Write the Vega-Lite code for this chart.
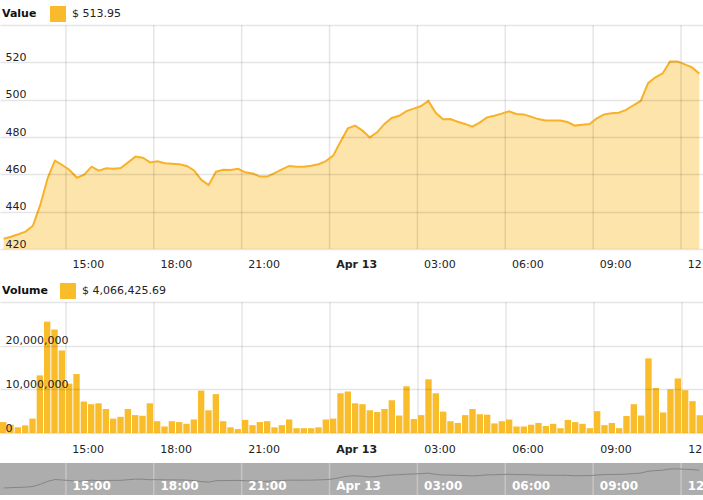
{
  "$schema": "https://vega.github.io/schema/vega-lite/v6.json",
  "width": 703,
  "height": 500,
  "autosize": {"type": "none"},
  "padding": 0,
  "background": "white",
  "config": {
    "view": {"stroke": null},
    "font": "DejaVu Sans",
    "axis": {"title": null, "ticks": false, "tickSize": 0, "domain": false, "grid": false, "labelFontSize": 11, "labelColor": "#222", "gridColor": "#000000", "gridOpacity": 0.1, "gridWidth": 1.5, "labelAngle": 0},
    "legend": {"titleFontSize": 11, "titleFontWeight": "bold", "titleColor": "#111", "labelFontSize": 11, "labelColor": "#222", "labelOffset": 5, "symbolType": "square", "symbolSize": 256, "padding": 0, "titleOrient": "left", "direction": "horizontal", "orient": "none"}
  },
  "datasets": {
    "btc": [
      {"t": "2014-04-12T12:45:00", "price": 425.5, "vol": 2500000},
      {"t": "2014-04-12T13:00:00", "price": 426.6, "vol": 1900000},
      {"t": "2014-04-12T13:15:00", "price": 427.9, "vol": 1300000},
      {"t": "2014-04-12T13:30:00", "price": 429.3, "vol": 1750000},
      {"t": "2014-04-12T13:45:00", "price": 432.5, "vol": 3300000},
      {"t": "2014-04-12T14:00:00", "price": 443.6, "vol": 13200000},
      {"t": "2014-04-12T14:15:00", "price": 457.9, "vol": 25500000},
      {"t": "2014-04-12T14:30:00", "price": 467.3, "vol": 23700000},
      {"t": "2014-04-12T14:45:00", "price": 465.0, "vol": 18900000},
      {"t": "2014-04-12T15:00:00", "price": 462.3, "vol": 11300000},
      {"t": "2014-04-12T15:15:00", "price": 458.2, "vol": 13500000},
      {"t": "2014-04-12T15:30:00", "price": 459.8, "vol": 7200000},
      {"t": "2014-04-12T15:45:00", "price": 464.1, "vol": 6600000},
      {"t": "2014-04-12T16:00:00", "price": 462.0, "vol": 6800000},
      {"t": "2014-04-12T16:15:00", "price": 463.2, "vol": 5500000},
      {"t": "2014-04-12T16:30:00", "price": 463.0, "vol": 3300000},
      {"t": "2014-04-12T16:45:00", "price": 463.4, "vol": 3700000},
      {"t": "2014-04-12T17:00:00", "price": 466.4, "vol": 5500000},
      {"t": "2014-04-12T17:15:00", "price": 469.5, "vol": 4100000},
      {"t": "2014-04-12T17:30:00", "price": 468.9, "vol": 3950000},
      {"t": "2014-04-12T17:45:00", "price": 466.4, "vol": 6800000},
      {"t": "2014-04-12T18:00:00", "price": 467.0, "vol": 2700000},
      {"t": "2014-04-12T18:15:00", "price": 465.9, "vol": 1500000},
      {"t": "2014-04-12T18:30:00", "price": 465.7, "vol": 2700000},
      {"t": "2014-04-12T18:45:00", "price": 465.4, "vol": 2500000},
      {"t": "2014-04-12T19:00:00", "price": 464.5, "vol": 2100000},
      {"t": "2014-04-12T19:15:00", "price": 462.1, "vol": 3100000},
      {"t": "2014-04-12T19:30:00", "price": 457.0, "vol": 9700000},
      {"t": "2014-04-12T19:45:00", "price": 454.3, "vol": 5200000},
      {"t": "2014-04-12T20:00:00", "price": 461.4, "vol": 8900000},
      {"t": "2014-04-12T20:15:00", "price": 462.5, "vol": 2700000},
      {"t": "2014-04-12T20:30:00", "price": 462.3, "vol": 1300000},
      {"t": "2014-04-12T20:45:00", "price": 463.0, "vol": 900000},
      {"t": "2014-04-12T21:00:00", "price": 461.1, "vol": 3000000},
      {"t": "2014-04-12T21:15:00", "price": 460.5, "vol": 1800000},
      {"t": "2014-04-12T21:30:00", "price": 458.8, "vol": 2500000},
      {"t": "2014-04-12T21:45:00", "price": 458.8, "vol": 2700000},
      {"t": "2014-04-12T22:00:00", "price": 460.7, "vol": 1300000},
      {"t": "2014-04-12T22:15:00", "price": 462.7, "vol": 1800000},
      {"t": "2014-04-12T22:30:00", "price": 464.5, "vol": 3100000},
      {"t": "2014-04-12T22:45:00", "price": 464.1, "vol": 1100000},
      {"t": "2014-04-12T23:00:00", "price": 464.1, "vol": 1100000},
      {"t": "2014-04-12T23:15:00", "price": 464.6, "vol": 1100000},
      {"t": "2014-04-12T23:30:00", "price": 465.4, "vol": 1300000},
      {"t": "2014-04-12T23:45:00", "price": 467.1, "vol": 3100000},
      {"t": "2014-04-13T00:00:00", "price": 470.0, "vol": 3300000},
      {"t": "2014-04-13T00:15:00", "price": 477.5, "vol": 9100000},
      {"t": "2014-04-13T00:30:00", "price": 484.6, "vol": 9500000},
      {"t": "2014-04-13T00:45:00", "price": 486.1, "vol": 6800000},
      {"t": "2014-04-13T01:00:00", "price": 483.4, "vol": 6600000},
      {"t": "2014-04-13T01:15:00", "price": 479.8, "vol": 5200000},
      {"t": "2014-04-13T01:30:00", "price": 482.5, "vol": 4800000},
      {"t": "2014-04-13T01:45:00", "price": 487.0, "vol": 5500000},
      {"t": "2014-04-13T02:00:00", "price": 490.2, "vol": 7500000},
      {"t": "2014-04-13T02:15:00", "price": 491.4, "vol": 4000000},
      {"t": "2014-04-13T02:30:00", "price": 493.9, "vol": 10700000},
      {"t": "2014-04-13T02:45:00", "price": 495.2, "vol": 3200000},
      {"t": "2014-04-13T03:00:00", "price": 496.6, "vol": 4100000},
      {"t": "2014-04-13T03:15:00", "price": 499.3, "vol": 12300000},
      {"t": "2014-04-13T03:30:00", "price": 493.0, "vol": 9100000},
      {"t": "2014-04-13T03:45:00", "price": 489.5, "vol": 4900000},
      {"t": "2014-04-13T04:00:00", "price": 489.6, "vol": 2700000},
      {"t": "2014-04-13T04:15:00", "price": 488.2, "vol": 2300000},
      {"t": "2014-04-13T04:30:00", "price": 487.0, "vol": 4100000},
      {"t": "2014-04-13T04:45:00", "price": 485.5, "vol": 5500000},
      {"t": "2014-04-13T05:00:00", "price": 487.7, "vol": 4300000},
      {"t": "2014-04-13T05:15:00", "price": 490.5, "vol": 4200000},
      {"t": "2014-04-13T05:30:00", "price": 491.4, "vol": 2200000},
      {"t": "2014-04-13T05:45:00", "price": 492.5, "vol": 2700000},
      {"t": "2014-04-13T06:00:00", "price": 493.8, "vol": 3100000},
      {"t": "2014-04-13T06:15:00", "price": 492.3, "vol": 1500000},
      {"t": "2014-04-13T06:30:00", "price": 492.1, "vol": 1500000},
      {"t": "2014-04-13T06:45:00", "price": 490.9, "vol": 1900000},
      {"t": "2014-04-13T07:00:00", "price": 489.6, "vol": 2300000},
      {"t": "2014-04-13T07:15:00", "price": 488.9, "vol": 1600000},
      {"t": "2014-04-13T07:30:00", "price": 488.9, "vol": 2100000},
      {"t": "2014-04-13T07:45:00", "price": 488.8, "vol": 1100000},
      {"t": "2014-04-13T08:00:00", "price": 488.0, "vol": 3000000},
      {"t": "2014-04-13T08:15:00", "price": 486.1, "vol": 2500000},
      {"t": "2014-04-13T08:30:00", "price": 486.6, "vol": 2100000},
      {"t": "2014-04-13T08:45:00", "price": 487.0, "vol": 1100000},
      {"t": "2014-04-13T09:00:00", "price": 490.0, "vol": 5000000},
      {"t": "2014-04-13T09:15:00", "price": 492.1, "vol": 1800000},
      {"t": "2014-04-13T09:30:00", "price": 492.7, "vol": 2300000},
      {"t": "2014-04-13T09:45:00", "price": 493.0, "vol": 1100000},
      {"t": "2014-04-13T10:00:00", "price": 494.5, "vol": 3900000},
      {"t": "2014-04-13T10:15:00", "price": 497.0, "vol": 6600000},
      {"t": "2014-04-13T10:30:00", "price": 499.3, "vol": 4000000},
      {"t": "2014-04-13T10:45:00", "price": 508.8, "vol": 17100000},
      {"t": "2014-04-13T11:00:00", "price": 512.0, "vol": 10300000},
      {"t": "2014-04-13T11:15:00", "price": 514.1, "vol": 4700000},
      {"t": "2014-04-13T11:30:00", "price": 520.4, "vol": 10000000},
      {"t": "2014-04-13T11:45:00", "price": 520.5, "vol": 12500000},
      {"t": "2014-04-13T12:00:00", "price": 518.9, "vol": 9800000},
      {"t": "2014-04-13T12:15:00", "price": 517.3, "vol": 7300000},
      {"t": "2014-04-13T12:30:00", "price": 513.95, "vol": 4066425.69}
    ]
  },
  "data": {"name": "btc"},
  "resolve": {"scale": {"x": "independent", "y": "independent", "fill": "independent"}, "axis": {"x": "independent", "y": "independent"}, "legend": {"fill": "independent"}},
  "layer": [
    {
      "layer": [
        {
          "mark": {"type": "area", "color": "#f9bb2b", "fillOpacity": 0.4},
          "encoding": {
            "x": {
              "field": "t", "type": "ordinal", "bandPosition": 0.5,
              "scale": {"type": "band", "paddingInner": 0, "paddingOuter": 0},
              "axis": {
                "orient": "bottom",
                "offset": -251,
                "zindex": 1,
                "bandPosition": 0,
                "values": ["2014-04-12T15:00:00", "2014-04-12T18:00:00", "2014-04-12T21:00:00", "2014-04-13T00:00:00", "2014-04-13T03:00:00", "2014-04-13T06:00:00", "2014-04-13T09:00:00", "2014-04-13T12:00:00"],
                "labelAlign": "left",
                "labelBaseline": "top",
                "labelOffset": 3,
                "labelPadding": 9,
                "labelFlush": false,
                "labelOverlap": false,
                "labelExpr": "substring(datum.value, 11, 16) == '00:00' ? 'Apr 13' : substring(datum.value, 11, 16)",
                "labelFontWeight": {"condition": {"test": "substring(datum.value, 11, 16) == '00:00'", "value": "bold"}, "value": "normal"}
              }
            },
            "y": {
              "field": "price", "type": "quantitative",
              "scale": {"domain": [420, 540], "range": [249, 25], "zero": false},
              "axis": {
                "orient": "left",
                "offset": 0,
                "zindex": 1,
                "grid": true,
                "values": [420, 440, 460, 480, 500, 520, 540],
                "labelAlign": "left",
                "labelBaseline": "bottom",
                "labelPadding": -5,
                "labelExpr": "datum.value >= 540 ? '' : datum.label"
              }
            },
            "y2": {"datum": 420},
            "fill": {
              "datum": "$ 513.95", "type": "nominal",
              "scale": {"range": ["#f9bb2b"]},
              "legend": {"title": "Value", "legendX": 2, "legendY": 5, "titlePadding": 12, "symbolOpacity": 1}
            }
          }
        },
        {
          "transform": [{"filter": {"field": "t", "oneOf": ["2014-04-12T15:00:00", "2014-04-12T18:00:00", "2014-04-12T21:00:00", "2014-04-13T00:00:00", "2014-04-13T03:00:00", "2014-04-13T06:00:00", "2014-04-13T09:00:00", "2014-04-13T12:00:00"]}}],
          "mark": {"type": "rule", "color": "#000000", "opacity": 0.1, "strokeWidth": 1.5},
          "encoding": {
            "x": {"field": "t", "type": "ordinal", "bandPosition": 0},
            "y": {"datum": 540, "type": "quantitative", "scale": {"domain": [420, 540], "range": [249, 25], "zero": false}},
            "y2": {"datum": 420}
          }
        },
        {
          "mark": {"type": "line", "color": "#f7b22a", "strokeWidth": 2},
          "encoding": {
            "x": {"field": "t", "type": "ordinal", "bandPosition": 0.5},
            "y": {"field": "price", "type": "quantitative", "scale": {"domain": [420, 540], "range": [249, 25], "zero": false}}
          }
        }
      ]
    },
    {
      "layer": [
        {
          "transform": [{"filter": {"field": "t", "oneOf": ["2014-04-12T15:00:00", "2014-04-12T18:00:00", "2014-04-12T21:00:00", "2014-04-13T00:00:00", "2014-04-13T03:00:00", "2014-04-13T06:00:00", "2014-04-13T09:00:00", "2014-04-13T12:00:00"]}}],
          "mark": {"type": "rule", "color": "#000000", "opacity": 0.1, "strokeWidth": 1.5},
          "encoding": {
            "x": {"field": "t", "type": "ordinal", "bandPosition": 0},
            "y": {"datum": 30000000, "type": "quantitative", "scale": {"domain": [0, 30000000], "range": [433, 302]}},
            "y2": {"datum": 0}
          }
        },
        {
          "mark": {"type": "bar", "color": "#f9bd2c"},
          "encoding": {
            "x": {
              "field": "t", "type": "ordinal",
              "scale": {"type": "band", "paddingInner": 0.13, "paddingOuter": 0},
              "axis": {
                "orient": "bottom",
                "offset": -67,
                "zindex": 1,
                "bandPosition": 0,
                "values": ["2014-04-12T15:00:00", "2014-04-12T18:00:00", "2014-04-12T21:00:00", "2014-04-13T00:00:00", "2014-04-13T03:00:00", "2014-04-13T06:00:00", "2014-04-13T09:00:00", "2014-04-13T12:00:00"],
                "labelAlign": "left",
                "labelBaseline": "top",
                "labelOffset": 3,
                "labelPadding": 10,
                "labelFlush": false,
                "labelOverlap": false,
                "labelExpr": "substring(datum.value, 11, 16) == '00:00' ? 'Apr 13' : substring(datum.value, 11, 16)",
                "labelFontWeight": {"condition": {"test": "substring(datum.value, 11, 16) == '00:00'", "value": "bold"}, "value": "normal"}
              }
            },
            "y": {
              "field": "vol", "type": "quantitative",
              "scale": {"domain": [0, 30000000], "range": [433, 302]},
              "axis": {
                "orient": "left",
                "offset": 0,
                "zindex": 1,
                "grid": true,
                "values": [0, 10000000, 20000000, 30000000],
                "labelAlign": "left",
                "labelBaseline": "bottom",
                "labelPadding": -5,
                "labelExpr": "datum.value >= 30000000 ? '' : format(datum.value, ',d')"
              }
            },
            "fill": {
              "datum": "$ 4,066,425.69", "type": "nominal",
              "scale": {"range": ["#f9bd2c"]},
              "legend": {"title": "Volume", "legendX": 2, "legendY": 282, "titlePadding": 11}
            }
          }
        }
      ]
    },
    {
      "layer": [
        {
          "mark": {"type": "rect", "color": "#adadad"},
          "encoding": {
            "y": {"datum": 550, "type": "quantitative", "scale": {"domain": [390, 550], "range": [495, 463], "zero": false}},
            "y2": {"datum": 390}
          }
        },
        {
          "transform": [{"filter": {"field": "t", "oneOf": ["2014-04-12T15:00:00", "2014-04-12T18:00:00", "2014-04-12T21:00:00", "2014-04-13T00:00:00", "2014-04-13T03:00:00", "2014-04-13T06:00:00", "2014-04-13T09:00:00", "2014-04-13T12:00:00"]}}],
          "mark": {"type": "rule", "color": "#ffffff", "opacity": 0.3, "strokeWidth": 1.5},
          "encoding": {
            "x": {"field": "t", "type": "ordinal", "bandPosition": 0},
            "y": {"datum": 550, "type": "quantitative", "scale": {"domain": [390, 550], "range": [495, 463], "zero": false}},
            "y2": {"datum": 390}
          }
        },
        {
          "mark": {"type": "line", "color": "#858585", "strokeWidth": 1},
          "encoding": {
            "x": {
              "field": "t", "type": "ordinal", "bandPosition": 0.5,
              "scale": {"type": "band", "paddingInner": 0, "paddingOuter": 0},
              "axis": {
                "orient": "bottom",
                "offset": -23,
                "zindex": 2,
                "bandPosition": 0,
                "values": ["2014-04-12T15:00:00", "2014-04-12T18:00:00", "2014-04-12T21:00:00", "2014-04-13T00:00:00", "2014-04-13T03:00:00", "2014-04-13T06:00:00", "2014-04-13T09:00:00", "2014-04-13T12:00:00"],
                "labelAlign": "left",
                "labelBaseline": "top",
                "labelOffset": 3,
                "labelPadding": 3,
                "labelColor": "#ffffff",
                "labelFontSize": 12,
                "labelFontWeight": "bold",
                "labelFlush": false,
                "labelOverlap": false,
                "labelExpr": "substring(datum.value, 11, 16) == '00:00' ? 'Apr 13' : substring(datum.value, 11, 16)"
              }
            },
            "y": {"field": "price", "type": "quantitative", "scale": {"domain": [390, 550], "range": [495, 463], "zero": false}, "axis": null}
          }
        }
      ]
    }
  ]
}
